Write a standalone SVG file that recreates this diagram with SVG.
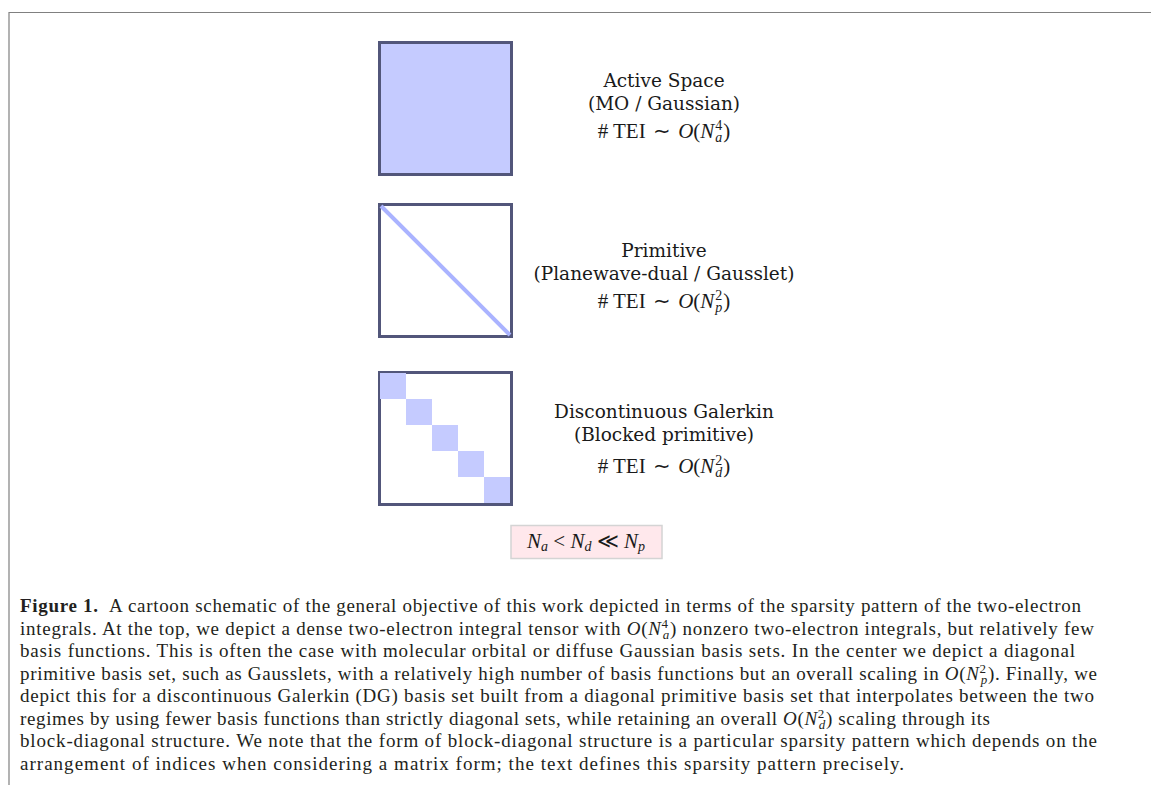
<svg xmlns="http://www.w3.org/2000/svg" width="1151" height="785" viewBox="0 0 1151 785">
<style>
.frame{fill:none;stroke:#808080;stroke-width:1.2}
.mat{stroke:#52567a;stroke-width:3}
.lbl{font-family:"DejaVu Serif",serif;font-size:18.5px;fill:#1a1a1a;text-anchor:middle}
.m{font-family:"Liberation Serif",serif;font-size:21px;fill:#1a1a1a}
.mi{font-style:italic}
.s{font-size:14px}
.cap{font-family:"Liberation Serif",serif;font-size:19px;fill:#231f20}
.blk{fill:#c5cbff}
</style>
<rect width="1151" height="785" fill="#fff"/>
<path class="frame" d="M9 785 V12.5 H1151"/>

<g id="node-active">
<rect class="mat" x="379.5" y="42.5" width="132" height="132" fill="#c5cbff"/>
<text class="lbl" x="664" y="87">Active Space</text>
<text class="lbl" x="664" y="110">(MO / Gaussian)</text>
<text class="m" x="664" y="138" text-anchor="middle"># TEI <tspan dx="2">∼</tspan> <tspan class="mi" dx="2">O</tspan>(<tspan class="mi">N</tspan><tspan class="s" dx="1" dy="-8">4</tspan><tspan class="s mi" dx="-7" dy="12">a</tspan><tspan dx="1" dy="-4">)</tspan></text>
</g>

<g id="node-primitive">
<rect class="mat" x="379.5" y="204.5" width="132" height="132" fill="#fff"/>
<line x1="381" y1="206" x2="510" y2="335" stroke="#aab3ff" stroke-width="4"/>
<text class="lbl" x="664" y="257">Primitive</text>
<text class="lbl" x="664" y="280">(Planewave-dual / Gausslet)</text>
<text class="m" x="664" y="308" text-anchor="middle"># TEI <tspan dx="2">∼</tspan> <tspan class="mi" dx="2">O</tspan>(<tspan class="mi">N</tspan><tspan class="s" dx="1" dy="-8">2</tspan><tspan class="s mi" dx="-7" dy="12">p</tspan><tspan dx="1" dy="-4">)</tspan></text>
</g>

<g id="node-dg">
<rect class="mat" x="379.5" y="372.5" width="132" height="132" fill="#fff"/>
<rect class="blk" x="380" y="373" width="26" height="26"/>
<rect class="blk" x="406" y="399" width="26" height="26"/>
<rect class="blk" x="432" y="425" width="26" height="26"/>
<rect class="blk" x="458" y="451" width="26" height="26"/>
<rect class="blk" x="484" y="477" width="26" height="26"/>
<text class="lbl" x="664" y="418">Discontinuous Galerkin</text>
<text class="lbl" x="664" y="441">(Blocked primitive)</text>
<text class="m" x="664" y="473" text-anchor="middle"># TEI <tspan dx="2">∼</tspan> <tspan class="mi" dx="2">O</tspan>(<tspan class="mi">N</tspan><tspan class="s" dx="1" dy="-8">2</tspan><tspan class="s mi" dx="-7" dy="12">d</tspan><tspan dx="1" dy="-4">)</tspan></text>
</g>

<g id="node-ineq">
<rect x="511" y="525.5" width="151" height="33" fill="#ffe8ec" stroke="#d4d4d4" stroke-width="1.5"/>
<text class="m" x="586" y="548" text-anchor="middle"><tspan class="mi">N</tspan><tspan class="mi s" dy="3">a</tspan><tspan dy="-3"> &lt; </tspan><tspan class="mi">N</tspan><tspan class="mi s" dy="3">d</tspan><tspan dy="-3"> ≪ </tspan><tspan class="mi">N</tspan><tspan class="mi s" dy="3">p</tspan></text>
</g>

<g id="connectors"></g>

<g id="caption" class="cap">
<text x="20" y="612" textLength="1061" lengthAdjust="spacing"><tspan font-weight="bold">Figure 1.</tspan><tspan dx="6"> A cartoon schematic of the general objective of this work depicted in terms of the sparsity pattern of the two-electron</tspan></text>
<text x="20" y="634.5" textLength="1074" lengthAdjust="spacing">integrals. At the top, we depict a dense two-electron integral tensor with <tspan font-style="italic">O</tspan>(<tspan font-style="italic">N</tspan><tspan font-size="13" dy="-7">4</tspan><tspan font-size="13" font-style="italic" dx="-6" dy="11">a</tspan><tspan dy="-4">) nonzero two-electron integrals, but relatively few</tspan></text>
<text x="20" y="657" textLength="1055" lengthAdjust="spacing">basis functions. This is often the case with molecular orbital or diffuse Gaussian basis sets. In the center we depict a diagonal</text>
<text x="20" y="679.5" textLength="1077" lengthAdjust="spacing">primitive basis set, such as Gausslets, with a relatively high number of basis functions but an overall scaling in <tspan font-style="italic">O</tspan>(<tspan font-style="italic">N</tspan><tspan font-size="13" dy="-7">2</tspan><tspan font-size="13" font-style="italic" dx="-6" dy="11">p</tspan><tspan dy="-4">). Finally, we</tspan></text>
<text x="20" y="702" textLength="1074" lengthAdjust="spacing">depict this for a discontinuous Galerkin (DG) basis set built from a diagonal primitive basis set that interpolates between the two</text>
<text x="20" y="724.5" textLength="970" lengthAdjust="spacing">regimes by using fewer basis functions than strictly diagonal sets, while retaining an overall <tspan font-style="italic">O</tspan>(<tspan font-style="italic">N</tspan><tspan font-size="13" dy="-7">2</tspan><tspan font-size="13" font-style="italic" dx="-6" dy="11">d</tspan><tspan dy="-4">) scaling through its</tspan></text>
<text x="20" y="747" textLength="1077" lengthAdjust="spacing">block-diagonal structure. We note that the form of block-diagonal structure is a particular sparsity pattern which depends on the</text>
<text x="20" y="769.5" textLength="884" lengthAdjust="spacing">arrangement of indices when considering a matrix form; the text defines this sparsity pattern precisely.</text>
</g>
</svg>
